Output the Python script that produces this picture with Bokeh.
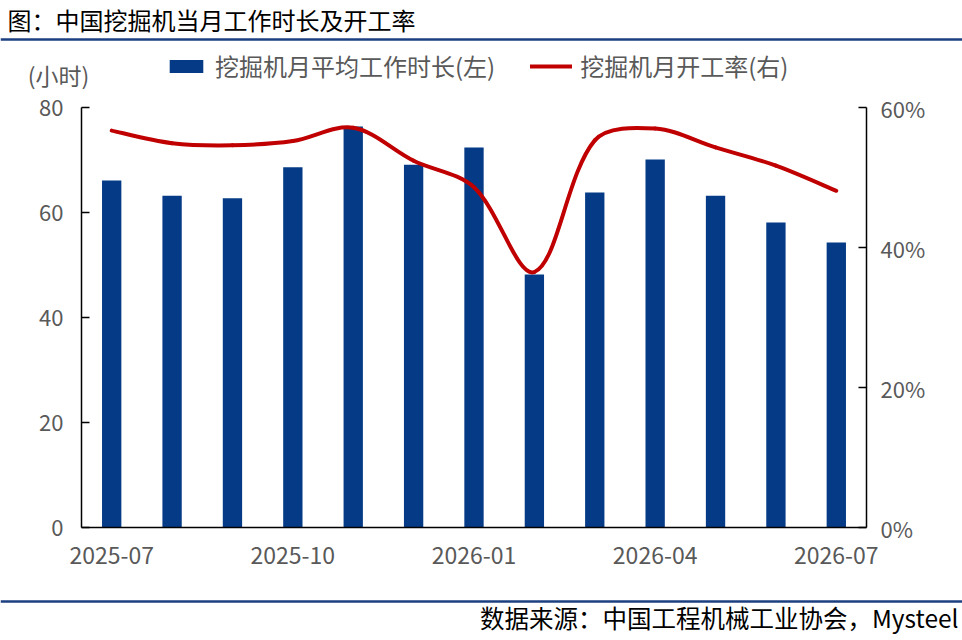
import math
from bokeh.plotting import figure
from bokeh.layouts import column
from bokeh.models import (Range1d, LinearAxis, FixedTicker, Span,
                          Legend, LegendItem, ColumnDataSource, NumeralTickFormatter)
from bokeh.core.properties import value
from bokeh.embed import file_html
from bokeh.resources import INLINE

# ---------------- data ----------------
months = ["2025-07", "2025-08", "2025-09", "2025-10", "2025-11", "2025-12", "2026-01",
          "2026-02", "2026-03", "2026-04", "2026-05", "2026-06", "2026-07"]
hours = [66.1, 63.2, 62.7, 68.6, 76.4, 69.1, 72.4, 48.2, 63.8, 70.1, 63.2, 58.1, 54.3]
rate = [0.567, 0.549, 0.546, 0.552, 0.571, 0.524, 0.486, 0.365, 0.553, 0.570, 0.543, 0.517, 0.481]
x_tick_months = ["2025-07", "2025-10", "2026-01", "2026-04", "2026-07"]
left_ticks = [0, 20, 40, 60, 80]
right_ticks = [0, 0.2, 0.4, 0.6]

title_text = "图：中国挖掘机当月工作时长及开工率"
bar_name = "挖掘机月平均工作时长(左)"
line_name = "挖掘机月开工率(右)"
unit_text = "(小时)"
source_text = "数据来源：中国工程机械工业协会，Mysteel"

# ---------------- style ----------------
FONT = "Noto Sans CJK SC"
BAR_COLOR = "#053A86"
LINE_COLOR = "#C00000"
RULE_COLOR = "#1B3F80"
TICK_COLOR = "#595959"

W = 962
HEAD_H, MAIN_H, FOOT_H = 91, 499, 50
ML, MR, MT, MB = 81, 96, 16, 63
FW, FH = W - ML - MR, MAIN_H - MT - MB
NAN = float("nan")


def blank_fig(h):
    f = figure(width=W, height=h, x_range=Range1d(0, W), y_range=Range1d(h, 0),
               output_backend="svg", toolbar_location=None,
               x_axis_location=None, y_axis_location=None,
               min_border=0, min_border_left=0, min_border_right=0,
               min_border_top=0, min_border_bottom=0)
    f.frame_align = False
    f.outline_line_color = None
    f.xgrid.visible = False
    f.ygrid.visible = False
    f.background_fill_color = "white"
    f.border_fill_color = "white"
    return f


# ---------------- header ----------------
head = blank_fig(HEAD_H)
head.text(x=[7], y=[19], text=[title_text], text_font=value(FONT), text_font_size="24px",
          text_color="black", text_baseline="middle", text_align="left")
head.add_layout(Span(location=39, dimension="width", line_color=RULE_COLOR, line_width=2.5))
head.text(x=[58], y=[74], text=[unit_text], text_font=value(FONT), text_font_size="23px",
          text_color=TICK_COLOR, text_baseline="middle", text_align="center")
# legend swatch renderers (no visible data of their own)
lg_bar = head.vbar(x=[NAN], top=[NAN], width=1, fill_color=BAR_COLOR, line_color=None)
lg_line = head.line(x=[NAN], y=[NAN], line_color=LINE_COLOR, line_width=4, line_cap="round")
legend = Legend(items=[LegendItem(label=bar_name, renderers=[lg_bar]),
                       LegendItem(label=line_name, renderers=[lg_line])],
                orientation="horizontal", location=(165, 8), margin=0, padding=0,
                glyph_width=42, glyph_height=16, label_standoff=8, spacing=35,
                label_text_font=FONT, label_text_font_size="24px", label_text_color=TICK_COLOR,
                background_fill_alpha=0, border_line_color=None)
head.add_layout(legend, "center")

# ---------------- main chart ----------------
xs = list(range(len(months)))
src = ColumnDataSource(dict(x=xs, hours=hours, month=months))

Y_MAX_R = 0.6
p = figure(width=W, height=MAIN_H, x_range=Range1d(-0.5, len(months) - 0.5),
           y_range=Range1d(0, 80), output_backend="svg", toolbar_location=None,
           min_border_left=ML, min_border_right=MR, min_border_top=MT, min_border_bottom=MB)
p.frame_align = False
p.extra_y_ranges = {"right": Range1d(0, Y_MAX_R)}
p.outline_line_color = None
p.xgrid.visible = False
p.ygrid.visible = False
p.background_fill_color = "white"
p.border_fill_color = "white"

bars = p.vbar(x="x", top="hours", width=0.32, source=src, fill_color=BAR_COLOR, line_color=None)

# smooth line through the data points (Excel-like smoothing): bezier segments whose
# control points follow the neighbours, weighted by on-screen segment lengths
PX_X = FW / len(months)
PX_Y = FH / Y_MAX_R


def seg_len(i, j):
    return math.hypot((xs[j] - xs[i]) * PX_X, (rate[j] - rate[i]) * PX_Y)


n = len(rate)
x0, y0, x1, y1, cx0, cy0, cx1, cy1 = [], [], [], [], [], [], [], []
for i in range(n - 1):
    pm = i - 1 if i > 0 else i
    pp = i + 2 if i + 2 < n else i + 1
    d_prev = seg_len(pm, i)
    d_cur = seg_len(i, i + 1)
    d_next = seg_len(i + 1, pp)
    f0 = d_cur / (3.0 * (d_prev + d_cur)) if i > 0 else 1 / 6.0
    f1 = d_cur / (3.0 * (d_cur + d_next)) if i + 2 < n else 1 / 6.0
    x0.append(xs[i]); y0.append(rate[i])
    x1.append(xs[i + 1]); y1.append(rate[i + 1])
    cx0.append(xs[i] + (xs[i + 1] - xs[pm]) * f0)
    cy0.append(rate[i] + (rate[i + 1] - rate[pm]) * f0)
    cx1.append(xs[i + 1] - (xs[pp] - xs[i]) * f1)
    cy1.append(rate[i + 1] - (rate[pp] - rate[i]) * f1)
bsrc = ColumnDataSource(dict(x0=x0, y0=y0, x1=x1, y1=y1, cx0=cx0, cy0=cy0, cx1=cx1, cy1=cy1))
curve = p.bezier(x0="x0", y0="y0", x1="x1", y1="y1", cx0="cx0", cy0="cy0", cx1="cx1", cy1="cy1",
                 source=bsrc, y_range_name="right", line_color=LINE_COLOR, line_width=4,
                 line_cap="round")


def style_axis(ax, size):
    ax.axis_line_color = "black"
    ax.axis_line_width = 1.5
    ax.major_tick_line_color = "black"
    ax.major_tick_line_width = 1.5
    ax.minor_tick_line_color = None
    ax.major_tick_in = 8
    ax.major_tick_out = 0
    ax.major_label_text_color = TICK_COLOR
    ax.major_label_text_font = FONT
    ax.major_label_text_font_size = size


yl = p.yaxis[0]
style_axis(yl, "22px")
yl.ticker = FixedTicker(ticks=left_ticks)
yl.major_label_standoff = 18

yr = LinearAxis(y_range_name="right", ticker=FixedTicker(ticks=right_ticks),
                formatter=NumeralTickFormatter(format="0%"))
style_axis(yr, "22px")
yr.major_label_standoff = 14
p.add_layout(yr, "right")

xa = p.xaxis[0]
style_axis(xa, "23px")
xa.major_tick_line_color = None
xa.ticker = FixedTicker(ticks=[months.index(m) for m in x_tick_months])
xa.major_label_overrides = {months.index(m): m for m in x_tick_months}
xa.major_label_standoff = 19

# ---------------- footer ----------------
foot = blank_fig(FOOT_H)
foot.add_layout(Span(location=11, dimension="width", line_color=RULE_COLOR, line_width=2.5))
foot.text(x=[958], y=[27], text=[source_text], text_font=value(FONT), text_font_size="24.5px",
          text_color="black", text_baseline="middle", text_align="right")

layout = column(head, p, foot, spacing=0)
open("out.html", "w").write(file_html(layout, INLINE))
